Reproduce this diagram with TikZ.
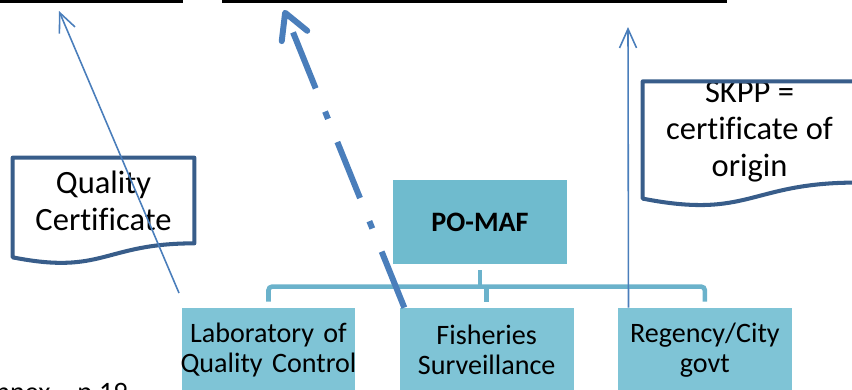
\documentclass[tikz,border=0pt]{standalone}
\usepackage{fontspec}
\setmainfont{Carlito}[Ligatures=NoCommon]
\usetikzlibrary{arrows.meta,positioning,calc}

\definecolor{arrowblue}{RGB}{74,126,187}
\definecolor{docblue}{RGB}{56,93,138}
\definecolor{topfill}{RGB}{111,187,206}
\definecolor{unitfill}{RGB}{127,196,214}
\definecolor{linkblue}{RGB}{107,178,203}

\tikzset{
  unit/.style={fill=unitfill, minimum width=3.48cm, minimum height=1.68cm,
    text width=3.7cm, inner xsep=-0.11cm, inner ysep=0pt, align=center,
    font=\fontsize{16}{17.3}\selectfont},
  head/.style={unit, fill=topfill, font=\fontsize{16}{17.3}\selectfont\bfseries},
  doctext/.style={fill=white, inner sep=0pt, align=center,
    font=\fontsize{18.5}{21}\selectfont},
  docline/.style={draw=docblue, line width=2.3pt, line join=round},
  link/.style={draw=linkblue, line width=2.6pt, rounded corners=2pt},
  flow/.style={draw=arrowblue, line width=0.9pt,
    -{Straight Barb[length=3.8mm,width=3.4mm]}},
  bigflow/.style={draw=arrowblue, line width=3.4pt,
    dash pattern=on 34.4pt off 14.2pt on 4.5pt off 14.2pt,
    -{Straight Barb[round,length=5mm,width=5.5mm]}},
}

\begin{document}
\begin{tikzpicture}[x=0.02cm, y=-0.02cm]
  \useasboundingbox (0,0) rectangle (852,389);

  % rules at the top
  \draw[line width=1.7pt] (0,1.5) -- (183,1.5);
  \draw[line width=1.7pt] (222,1.5) -- (727,1.5);

  % units
  \node[head] (pomaf) at (480,222) {PO-MAF};
  \node[unit] (lab) at (268.5,350) {Laboratory of\\Quality Control};
  \node[unit, right=0.87cm of lab] (fish) {Fisheries\\Surveillance};
  \node[unit, right=0.87cm of fish] (regency) {Regency/City\\govt};

  \draw[link] ($(pomaf.south)+(0,6)$) -- ($(pomaf.south)+(0,23)$);
  \draw[link] ($(lab.north)+(0,-6)$) -- ($(lab.north)+(0,-21)$)
    -| ($(regency.north)+(0,-6)$);
  \draw[link] ($(fish.north)+(0,-6)$) -- ($(fish.north)+(0,-21)$);

  % documents
  \node[doctext, minimum width=3.62cm, minimum height=1.70cm] (qcert)
    at (103.5,200.5) {Quality\\Certificate};
  \draw[docline] (qcert.north west) -- (qcert.north east) -- (qcert.south east)
    .. controls (qcert.south) and ($(qcert.south)+(0,32)$)
    .. ($(qcert.south west)+(0,14)$) -- cycle;

  \node[doctext, minimum width=4.26cm, minimum height=1.96cm] (skpp)
    at (749.5,132) {SKPP =\\certificate of\\origin};
  \draw[docline] (skpp.north west) -- (skpp.north east) -- (skpp.south east)
    .. controls (skpp.south) and ($(skpp.south)+(0,37)$)
    .. ($(skpp.south west)+(0,16)$) -- cycle;

  % flows
  \coordinate (qfoot) at (179,293);
  \coordinate (qtop) at (59,11);
  \coordinate (ftop) at (284,10);
  \coordinate (rtop) at (628,27);
  \draw[flow] (qfoot) -- (qtop);
  \draw[bigflow] ($(fish.north west)+(5,0)$) -- (ftop);
  \draw[flow] ($(regency.north west)+(11,0)$) -- (rtop);

  \node[anchor=base east, inner sep=0pt, font=\fontsize{16}{17}\selectfont]
    (annex) at (128,401) {Annex – p.19};
\end{tikzpicture}
\end{document}
